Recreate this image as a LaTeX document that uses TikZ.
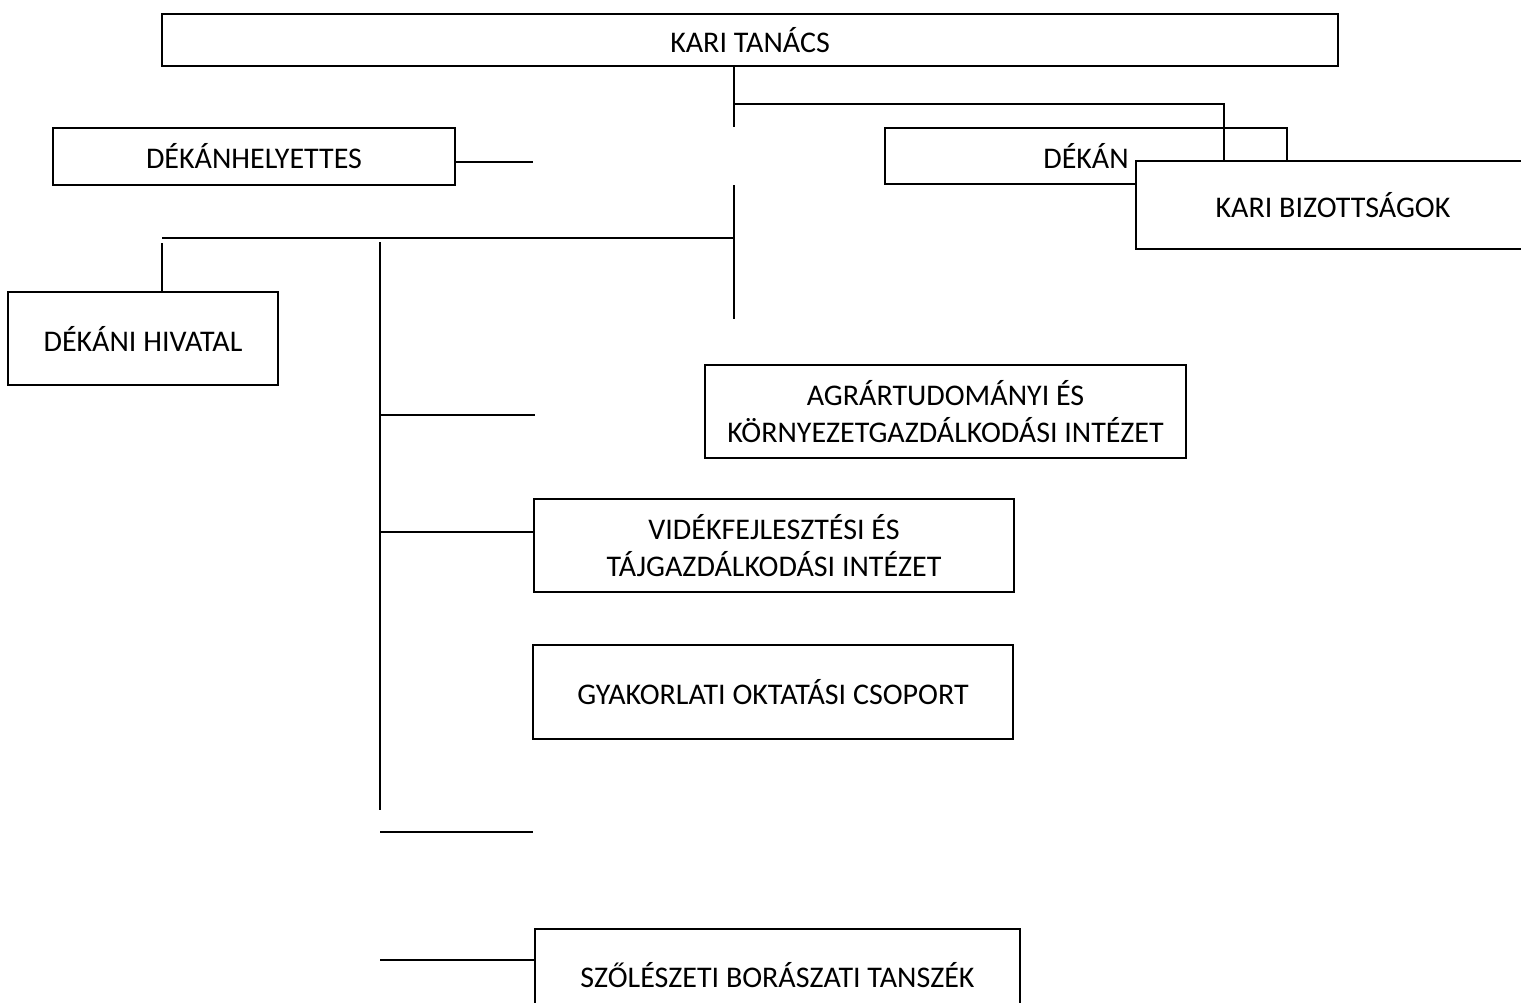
\documentclass[tikz,border=0pt]{standalone}
\usepackage{fontspec}
\setmainfont{Carlito}
\begin{document}
\begin{tikzpicture}[x=1pt,y=-1pt,
  box/.style={draw, line width=1.8pt, fill=white, inner sep=0pt, align=center,
    font=\fontsize{30}{37}\selectfont},
  conn/.style={line width=1.8pt}]
\useasboundingbox (0,0) rectangle (1521,1002);
\clip (0,0) rectangle (1521,1002);
% boxes
\node[box, minimum width=1176, minimum height=52] (kt) at (750,40) {KARI TANÁCS};
\node[box, minimum width=402, minimum height=57] (dh) at (254,156.5) {DÉKÁNHELYETTES};
\node[box, minimum width=402, minimum height=56] (dk) at (1086,156) {DÉKÁN};
\node[box, minimum width=270, minimum height=93] (dhiv) at (143,338.5) {DÉKÁNI HIVATAL};
\node[box, minimum width=481, minimum height=93] (agr) at (945.5,411.5) {AGRÁRTUDOMÁNYI ÉS\\KÖRNYEZETGAZDÁLKODÁSI INTÉZET};
\node[box, minimum width=480, minimum height=93] (vid) at (774,545.5) {VIDÉKFEJLESZTÉSI ÉS\\TÁJGAZDÁLKODÁSI INTÉZET};
\node[box, minimum width=480, minimum height=94] (gyak) at (773,692) {GYAKORLATI OKTATÁSI CSOPORT};
\node[box, minimum width=485, minimum height=93] (szo) at (777.5,975.5) {SZŐLÉSZETI BORÁSZATI TANSZÉK};
% coordinates
\coordinate (c1) at (734,127);
\coordinate (j1) at (734,104);
\coordinate (j2) at (1224,161);
\coordinate (dhend) at (533,162);
\coordinate (v2a) at (734,185);
\coordinate (v2b) at (734,319);
\coordinate (h1a) at (162,238);
\coordinate (h1b) at (734,238);
\coordinate (dv) at (162,243);
\coordinate (va) at (380,242);
\coordinate (vb) at (380,810);
\coordinate (l1a) at (381,415);
\coordinate (l1b) at (535,415);
\coordinate (l2) at (380,532);
\coordinate (l3a) at (380,832);
\coordinate (l3b) at (533,832);
\coordinate (l4) at (380,960);
% connectors
\draw[conn] (c1 |- kt.south) -- (c1);
\draw[conn] (j1) -| (j2);
\draw[conn] (dh.east |- dhend) -- (dhend);
\draw[conn] (v2a) -- (v2b);
\draw[conn] (h1a) -- (h1b);
\draw[conn] (dv) -- (dv |- dhiv.north);
\draw[conn] (va) -- (vb);
\draw[conn] (l1a) -- (l1b);
\draw[conn] (l2) -- (l2 -| vid.west);
\draw[conn] (l3a) -- (l3b);
\draw[conn] (l4) -- (l4 -| szo.west);
% Kari bizottsagok drawn on top
\node[box, minimum width=394, minimum height=88] (kb) at (1333,205) {KARI BIZOTTSÁGOK};
\end{tikzpicture}
\end{document}
